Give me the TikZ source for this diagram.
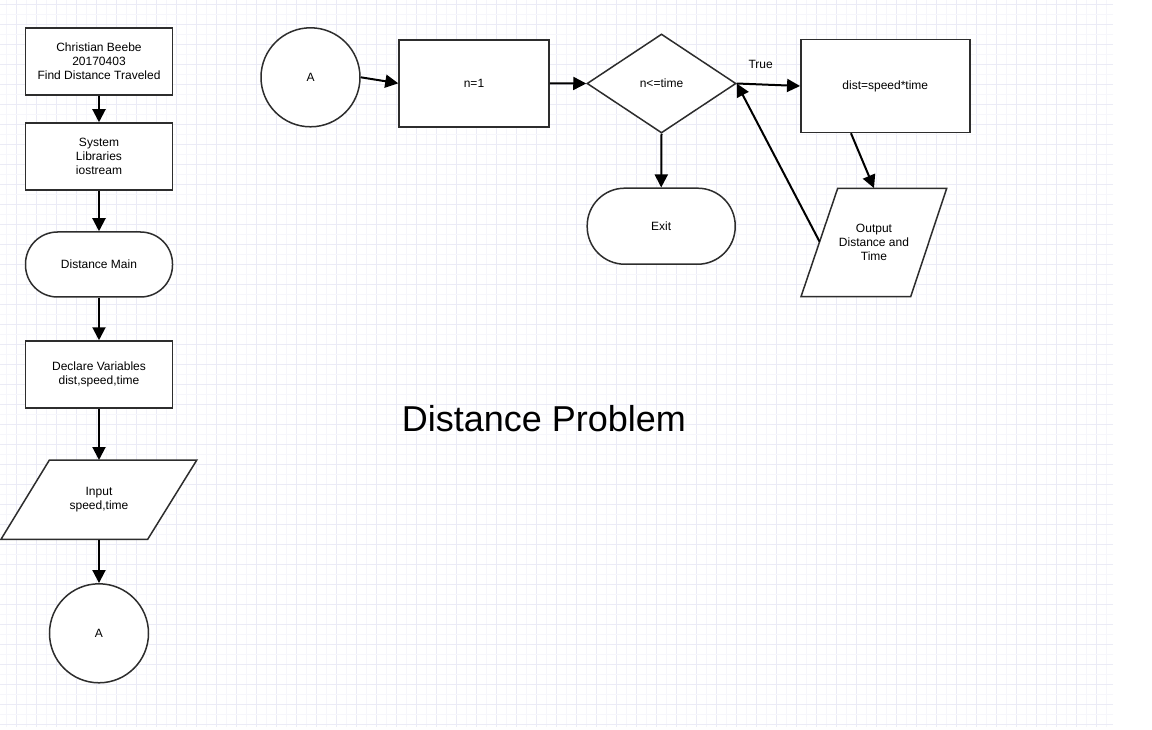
\documentclass[tikz,border=0pt]{standalone}
\usepackage{fontspec}
\setmainfont{Liberation Sans}
\usetikzlibrary{shapes.geometric,arrows.meta,calc}
\definecolor{shapegray}{RGB}{45,45,45}
\definecolor{gridminor}{RGB}{246,246,251}
\definecolor{gridmajor}{RGB}{235,235,246}
\begin{document}
\begin{tikzpicture}[x=1pt,y=-1pt,
  shp/.style={draw=shapegray,line width=1.5pt,fill=white,font=\fontsize{12}{14}\selectfont,align=center,text=black,inner sep=0pt},
  box/.style={shp,rectangle,minimum width=147pt,minimum height=67pt},
  term/.style={shp,rectangle},
  conn/.style={shp,circle,minimum size=99pt},
  para/.style={inner sep=0pt,font=\fontsize{12}{14}\selectfont,align=center,text=black},
  pline/.style={draw=shapegray,line width=1.5pt,fill=white,line join=miter},
  arr/.style={line width=2pt,draw=black,-{Triangle[length=13pt,width=13pt]}},
  lbl/.style={font=\fontsize{12}{14}\selectfont,text=black,inner sep=0pt}
]
\useasboundingbox (0,0) rectangle (1152,730);
\fill[white] (0,0) rectangle (1152,730);
% grid
\foreach \i in {0,...,110} {
  \pgfmathsetmacro{\xx}{6.7+10*\i}
  \pgfmathtruncatemacro{\odd}{mod(\i,2)}
  \ifnum\odd=1 \draw[gridmajor,line width=0.8pt] (\xx,0) -- (\xx,727);
  \else \draw[gridminor,line width=0.8pt] (\xx,0) -- (\xx,727); \fi
}
\foreach \j in {0,...,72} {
  \pgfmathsetmacro{\yy}{4+10*\j}
  \pgfmathtruncatemacro{\odd}{mod(\j,2)}
  \ifnum\odd=0 \draw[gridmajor,line width=0.8pt] (0,\yy) -- (1113,\yy);
  \else \draw[gridminor,line width=0.8pt] (0,\yy) -- (1113,\yy); \fi
}

% left column
\node[box] (b1) at (99,61.5) {Christian Beebe\\20170403\\Find Distance Traveled};
\node[box] (b2) at (99,156.5) {System\\Libraries\\iostream};
\node[term,minimum width=147pt,minimum height=65pt,rounded corners=32pt] (main) at (99,264.5) {Distance Main};
\node[box] (decl) at (99,374.5) {Declare Variables\\dist,speed,time};
\draw[pline] (49.3,460.2) -- (196.7,460.2) -- (147.7,539.3) -- (1,539.3) -- cycle;
\node[para,minimum height=79.1pt,minimum width=100pt] (inp) at (99,499.75) {Input\\speed,time};
\node[conn] (ca) at (99,633.3) {A};

% top row
\node[conn] (a2) at (310.5,77.3) {A};
\node[shp,rectangle,minimum width=150pt,minimum height=87pt] (n1) at (474,83.3) {n=1};
\node[shp,diamond,minimum width=149pt,minimum height=99pt] (dia) at (661.5,83.5) {n<=time};
\node[shp,rectangle,minimum width=169pt,minimum height=93pt] (dist) at (885.3,86) {dist=speed*time};
\node[term,minimum width=148pt,minimum height=76pt,rounded corners=37.5pt] (exit) at (661.2,226.2) {Exit};
\draw[pline] (837.7,188.3) -- (946.7,188.3) -- (910.7,296.7) -- (801,296.7) -- cycle;
\node[para,minimum height=108.4pt,minimum width=80pt] (out) at (874,242.5) {Output\\Distance and\\Time};
\coordinate (outl) at (819.6,241.7);

\node[lbl] (true) at (760.7,64.3) {True};
\node[inner sep=0pt,text=black,font=\fontsize{36}{40}\selectfont] (title) at (544,419) {Distance Problem};

% connectors
\draw[arr] (b1.south) -- (b2.north);
\draw[arr] (b2.south) -- (main.north);
\draw[arr] (main.south) -- (decl.north);
\draw[arr] (decl.south) -- (inp.north);
\draw[arr] (inp.south) -- (ca.north);
\draw[arr] (a2.east) -- (n1.west);
\draw[arr] (n1.east) -- (dia.west);
\draw[arr] (dia.east) -- (dist.west);
\draw[arr] (dist.-126.3) -- (out.north);
\draw[arr] (outl) -- (dia.east);
\draw[arr] (dia.south) -- (exit.north);
\end{tikzpicture}
\end{document}
